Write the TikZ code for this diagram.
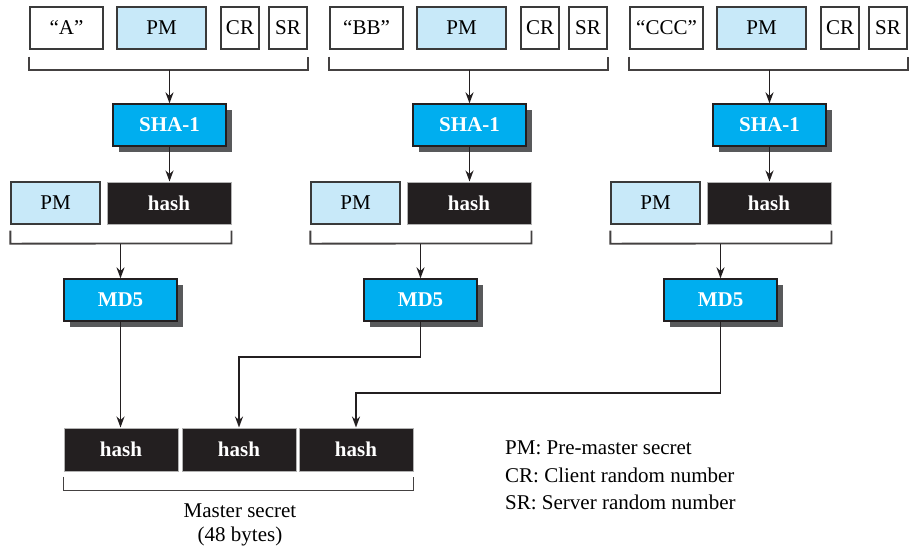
\documentclass[tikz,border=0pt]{standalone}
\usepackage{fontspec}
\setmainfont{Liberation Serif}
\usetikzlibrary{arrows.meta,shadows,calc}
\definecolor{lblue}{HTML}{C8E9F9}
\definecolor{cyanbox}{HTML}{00AEEF}
\definecolor{hashblk}{HTML}{231F20}
\definecolor{shad}{HTML}{58595B}
\definecolor{edge}{HTML}{3A3A3A}
\tikzset{
  box/.style={draw=edge, line width=1.3pt, inner sep=0pt, minimum height=42pt,
    font=\fontsize{21}{24}\selectfont},
  wbox/.style={box, fill=white},
  pbox/.style={box, fill=lblue},
  hbox/.style={box, fill=hashblk, draw=gray!60, line width=1pt, text=white,
    font=\fontsize{21}{24}\selectfont\bfseries},
  fbox/.style={box, fill=cyanbox, draw=hashblk, text=white,
    font=\fontsize{21}{24}\selectfont\bfseries,
    drop shadow={shadow xshift=6pt, shadow yshift=-6pt, fill=shad, opacity=1}},
  conn/.style={line width=1.8pt, draw=hashblk, -{Stealth[length=11pt,width=8pt]}},
  brk/.style={line width=1.8pt, draw=hashblk!85},
  lbl/.style={font=\fontsize{21}{24}\selectfont, inner sep=0pt},
}
\begin{document}
\begin{tikzpicture}[x=1pt,y=-1pt]
\useasboundingbox (0,0) rectangle (912,547);
\foreach \g/\dx/\q in {1/0/{“A”},2/300/{“BB”},3/600/{“CCC”}}{
  % top row
  \node[wbox, minimum width=73pt] (q\g) at (66.5+\dx,28) {\q};
  \node[pbox, minimum width=89pt] (pm\g) at (161.5+\dx,28) {PM};
  \node[wbox, minimum width=38pt] (cr\g) at (240+\dx,28) {CR};
  \node[wbox, minimum width=38pt] (sr\g) at (288+\dx,28) {SR};
  \draw[brk] ($(q\g.south west)+(0,7)$) -- ($(q\g.south west)+(0,20)$)
     -- ($(sr\g.south east)+(0,20)$) -- ($(sr\g.south east)+(0,7)$);
  % SHA-1
  \node[fbox, minimum width=113pt] (sha\g) at (169.5+\dx,125) {SHA-1};
  \coordinate (b\g) at ($(sha\g.center |- q\g.south)+(0,20)$);
  \draw[conn] (b\g) -- (sha\g.north);
  % middle row
  \node[pbox, minimum width=89pt] (pmb\g) at (55.5+\dx,203) {PM};
  \node[hbox, minimum width=124pt] (hs\g) at (169+\dx,203) {hash};
  \draw[conn] (sha\g.south) -- (sha\g.south |- hs\g.north);
  \draw[brk] ($(pmb\g.south west)+(0,6)$) -- ($(pmb\g.south west)+(0,19)$)
     -- ($(hs\g.south east)+(0,19)$) -- ($(hs\g.south east)+(0,6)$);
  % MD5
  \node[fbox, minimum width=113pt] (md\g) at (120.5+\dx,300) {MD5};
  \coordinate (c\g) at ($(md\g.center |- hs\g.south)+(0,19)$);
  \draw[conn] (c\g) -- (md\g.north);
}
% master secret
\node[hbox, minimum width=114pt, minimum height=43pt] (h1) at (121,449.5) {hash};
\node[hbox, minimum width=114pt, minimum height=43pt] (h2) at (239,449.5) {hash};
\node[hbox, minimum width=114pt, minimum height=43pt] (h3) at (356,449.5) {hash};
\draw[brk] ($(h1.south west)+(0,5)$) -- ($(h1.south west)+(0,19)$)
   -- ($(h3.south east)+(0,19)$) -- ($(h3.south east)+(0,5)$);
\draw[conn] (md1.south) -- (md1.south |- h1.north);
\draw[conn] (md2.south) -- ++(0,35) -| (h2.north);
\draw[conn] (md3.south) -- ++(0,71) -| (h3.north);
\node[lbl, align=center, font=\fontsize{21}{24}\selectfont] (ms) at (240,525) {Master secret\\(48 bytes)};
% legend
\node[lbl, anchor=west] (l1) at (505,448) {PM: Pre-master secret};
\node[lbl, anchor=west] (l2) at (505,475) {CR: Client random number};
\node[lbl, anchor=west] (l3) at (505,502) {SR: Server random number};
\end{tikzpicture}
\end{document}
